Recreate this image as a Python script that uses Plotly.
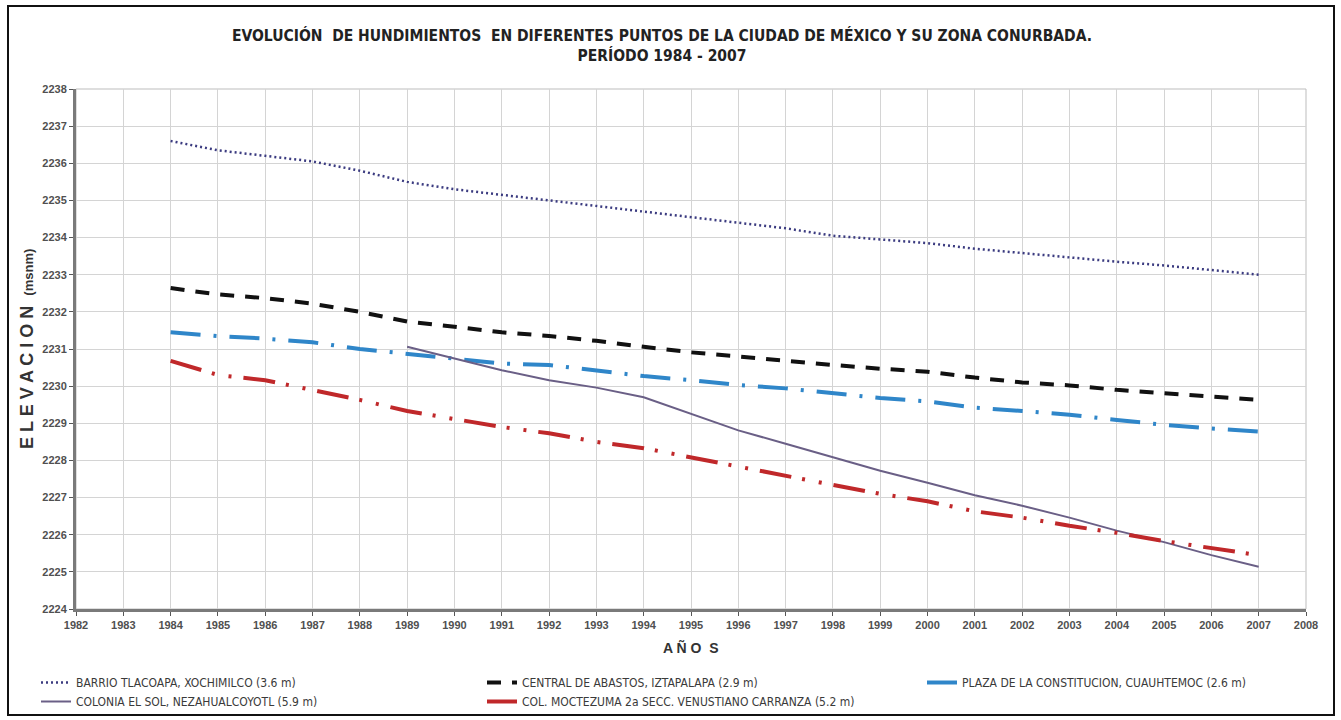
import plotly.graph_objects as go

years = list(range(1984, 2008))
years_sol = list(range(1989, 2008))

tlacoapa = [2236.6, 2236.35, 2236.2, 2236.05, 2235.8, 2235.5, 2235.3, 2235.15, 2235.0, 2234.85,
            2234.7, 2234.55, 2234.4, 2234.25, 2234.05, 2233.95, 2233.85, 2233.7, 2233.58, 2233.48,
            2233.35, 2233.25, 2233.12, 2233.0]
abastos = [2232.64, 2232.47, 2232.37, 2232.22, 2232.0, 2231.74, 2231.6, 2231.45, 2231.35, 2231.22,
           2231.06, 2230.91, 2230.8, 2230.68, 2230.57, 2230.47, 2230.39, 2230.23, 2230.1, 2230.02,
           2229.9, 2229.81, 2229.71, 2229.63]
constitucion = [2231.45, 2231.35, 2231.28, 2231.18, 2231.0, 2230.87, 2230.72, 2230.61, 2230.57, 2230.43,
                2230.27, 2230.16, 2230.03, 2229.94, 2229.82, 2229.68, 2229.59, 2229.42, 2229.33, 2229.23,
                2229.09, 2228.96, 2228.86, 2228.78]
el_sol = [2231.06, 2230.75, 2230.43, 2230.16, 2229.96, 2229.7, 2229.26, 2228.81, 2228.45, 2228.08,
          2227.72, 2227.4, 2227.06, 2226.78, 2226.46, 2226.11, 2225.8, 2225.45, 2225.14]
moctezuma = [2230.68, 2230.3, 2230.16, 2229.9, 2229.63, 2229.33, 2229.12, 2228.9, 2228.73, 2228.5,
             2228.33, 2228.08, 2227.82, 2227.58, 2227.34, 2227.1, 2226.9, 2226.63, 2226.46, 2226.24,
             2226.05, 2225.83, 2225.65, 2225.45]

names = ["BARRIO TLACOAPA, XOCHIMILCO (3.6 m)",
         "CENTRAL DE ABASTOS, IZTAPALAPA (2.9 m)",
         "PLAZA DE LA CONSTITUCION, CUAUHTEMOC (2.6 m)",
         "COLONIA EL SOL, NEZAHUALCOYOTL (5.9 m)",
         "COL. MOCTEZUMA 2a SECC. VENUSTIANO CARRANZA (5.2 m)"]

x_ticks = list(range(1982, 2009))
y_ticks = list(range(2224, 2239))

W, H = 1341, 720
L, R, T, B = 76, 35, 89, 111
PW, PH = W - L - R, H - T - B

def px(xp):
    return (xp - L) / PW

def py(yp):
    return (H - B - yp) / PH

fig = go.Figure()
fig.add_trace(go.Scatter(x=years, y=tlacoapa, mode="lines", name=names[0], legend="legend",
                         line=dict(color="#3b3b80", width=2.5, dash="2px,3px")))
fig.add_trace(go.Scatter(x=years, y=abastos, mode="lines", name=names[1], legend="legend2",
                         line=dict(color="#111111", width=4, dash="14px,11px")))
fig.add_trace(go.Scatter(x=years, y=constitucion, mode="lines", name=names[2], legend="legend3",
                         line=dict(color="#2f86c9", width=4, dash="30px,13px,3px,13px")))
fig.add_trace(go.Scatter(x=years_sol, y=el_sol, mode="lines", name=names[3], legend="legend",
                         line=dict(color="#6a5f86", width=2)))
fig.add_trace(go.Scatter(x=years, y=moctezuma, mode="lines", name=names[4], legend="legend2",
                         line=dict(color="#c0282a", width=4, dash="32px,11px,3px,14px,3px,12px")))

tick_font = dict(family="Liberation Sans, Arial, sans-serif", size=11, color="#505050", weight="bold")
leg_font = dict(family="DejaVu Sans Condensed, Liberation Sans, sans-serif", size=12, color="#3a3a3a")

def leg(xp):
    return dict(orientation="v", x=px(xp), y=py(668), xanchor="left", yanchor="top",
                font=leg_font, bgcolor="rgba(0,0,0,0)", tracegroupgap=0, itemwidth=30)

fig.update_layout(
    width=W, height=H,
    margin=dict(l=L, r=R, t=T, b=B, autoexpand=False),
    paper_bgcolor="white", plot_bgcolor="white",
    title=dict(
        text="<b>EVOLUCIÓN  DE HUNDIMIENTOS  EN DIFERENTES PUNTOS DE LA CIUDAD DE MÉXICO Y SU ZONA CONURBADA.<br>PERÍODO 1984 - 2007</b>",
        xref="container", yref="container",
        x=662 / W, xanchor="center", y=1 - 41 / H, yanchor="middle",
        font=dict(family="DejaVu Sans Condensed, Liberation Sans, sans-serif", size=15.5, color="#222222"),
    ),
    xaxis=dict(range=[1982, 2008], tickmode="array", tickvals=x_ticks,
               ticktext=[str(v) for v in x_ticks], tickangle=0,
               showgrid=True, gridcolor="#d4d4d4", gridwidth=1,
               showline=True, linecolor="#7a7a7a", linewidth=3,
               ticks="outside", ticklen=4, tickcolor="#555555", tickwidth=1,
               tickfont=tick_font, zeroline=False),
    yaxis=dict(range=[2224, 2238], tickmode="array", tickvals=y_ticks,
               ticktext=[str(v) for v in y_ticks],
               showgrid=True, gridcolor="#d4d4d4", gridwidth=1,
               showline=True, linecolor="#7a7a7a", linewidth=3,
               ticks="outside", ticklen=4, tickcolor="#555555", tickwidth=1,
               tickfont=tick_font, zeroline=False),
    legend=leg(36),
    legend2=leg(482),
    legend3=leg(922),
    showlegend=True,
)

fig.add_shape(type="rect", xref="paper", yref="paper", x0=0, x1=1, y0=0, y1=1,
              line=dict(color="#bdbdbd", width=1), layer="below")
fig.add_shape(type="rect", xref="paper", yref="paper",
              x0=px(8), x1=px(1334), y0=py(715), y1=py(6),
              line=dict(color="#111111", width=2), layer="below")

fig.add_annotation(xref="paper", yref="paper", x=px(27), y=0.5, textangle=-90,
                   text="<b>E L E V A C I O N</b>  <b><span style='font-size:13px'>(msnm)</span></b>",
                   showarrow=False, font=dict(family="Liberation Sans, Arial, sans-serif", size=18, color="#333333"),
                   xanchor="center", yanchor="middle")
fig.add_annotation(xref="paper", yref="paper", x=px(691), y=py(647),
                   text="<b>A Ñ O  S</b>", showarrow=False,
                   font=dict(family="Liberation Sans, Arial, sans-serif", size=14, color="#333333"),
                   xanchor="center", yanchor="middle")

fig.write_html("out.html", config={"displayModeBar": False},
               post_script="document.body.style.margin='0px';")
